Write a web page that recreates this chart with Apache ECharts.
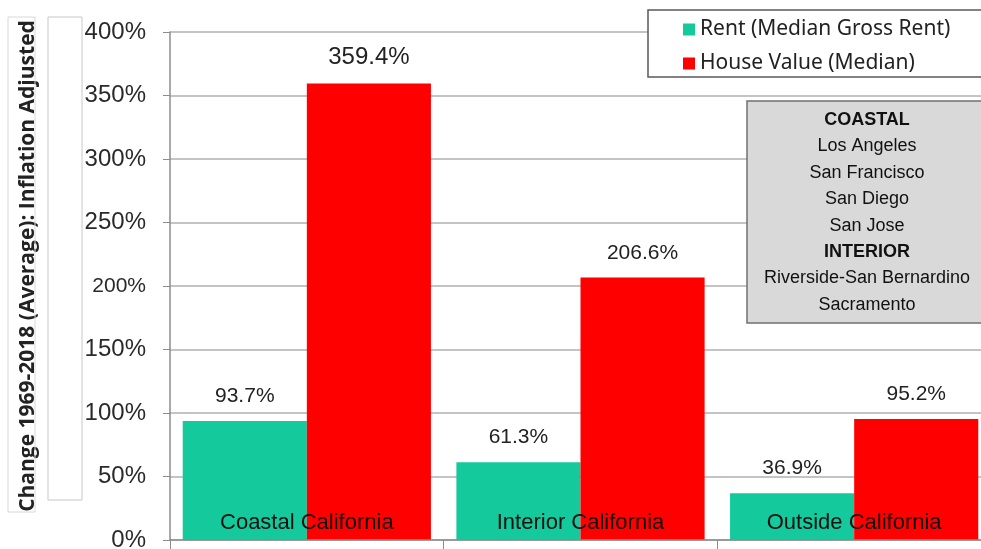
<!DOCTYPE html>
<html>
<head>
<meta charset="utf-8">
<script src="https://cdn.jsdelivr.net/npm/echarts@6/dist/echarts.min.js"></script>
<style>
  html, body { margin: 0; padding: 0; background: #fff; }
  #chart { width: 981px; height: 549px; }
</style>
</head>
<body>
<div id="chart"></div>
<script>
    /*数据*/
    var categories = ['Coastal California', 'Interior California', 'Outside California'];
    var rentValues = [93.7, 61.3, 36.9];
    var houseValues = [359.4, 206.6, 95.2];
    var seriesNames = ['Rent (Median Gross Rent)', 'House Value (Median)'];
    var noteLines = ['COASTAL', 'Los Angeles', 'San Francisco', 'San Diego', 'San Jose',
        'INTERIOR', 'Riverside-San Bernardino', 'Sacramento'];
    var boldLines = ['COASTAL', 'INTERIOR'];

    var chart = echarts.init(document.getElementById('chart'));

    var labelStyle = {
        show: true,
        position: 'top',
        distance: 14,
        fontFamily: 'Liberation Sans',
        fontSize: 21,
        color: '#222',
        formatter: function (p) { return p.value.toFixed(1) + '%'; }
    };

    // 右侧文字框
    var noteTexts = noteLines.map(function (t, i) {
        return {
            type: 'text',
            z: 31,
            style: {
                text: t,
                x: 867,
                y: 120 + i * 26.4,
                align: 'center',
                verticalAlign: 'middle',
                fontFamily: 'Liberation Sans',
                fontSize: 18,
                fontWeight: boldLines.indexOf(t) >= 0 ? 'bold' : 'normal',
                fill: '#111'
            }
        };
    });

    var option = {
        animation: false,
        grid: {
            left: 170,
            top: 32,
            width: 821,
            height: 508,
            outerBoundsMode: 'none'
        },
        legend: {
            orient: 'vertical',
            left: 678,
            top: 14,
            z: 40,
            itemWidth: 12,
            itemHeight: 12,
            itemGap: 13,
            icon: 'rect',
            textStyle: {
                fontFamily: 'Noto Sans',
                fontSize: 21,
                color: '#222'
            },
            data: seriesNames
        },
        xAxis: {
            type: 'category',
            data: categories,
            z: 5,
            axisLine: { lineStyle: { color: '#8c8c8c', width: 1.5 } },
            axisTick: { show: true, length: 10, lineStyle: { color: '#8c8c8c' } },
            axisLabel: {
                inside: true,
                margin: 6,
                fontFamily: 'Liberation Sans',
                fontSize: 22,
                color: '#111'
            }
        },
        yAxis: {
            type: 'value',
            min: 0,
            max: 400,
            interval: 50,
            name: 'Change 1969-2018 (Average): Inflation Adjusted',
            nameLocation: 'middle',
            nameRotate: 90,
            nameGap: 131,
            nameTextStyle: {
                fontFamily: 'Open Sans',
                fontWeight: 'bold',
                fontSize: 21,
                color: '#222',
                padding: [0, 0, 0, 40]
            },
            axisLine: { show: true, lineStyle: { color: '#8c8c8c', width: 1.5 } },
            axisTick: { show: true, length: 7, lineStyle: { color: '#8c8c8c' } },
            splitLine: { lineStyle: { color: '#b0b0b0', width: 1.5 } },
            axisLabel: {
                margin: 24,
                fontFamily: 'Liberation Sans',
                fontSize: 24,
                color: '#2a2a2a',
                formatter: function (v) {
                    return v === 200 ? '{s|' + v + '%}' : v + '%';
                },
                rich: {
                    s: { fontFamily: 'Liberation Sans', fontSize: 21, color: '#2a2a2a' }
                }
            }
        },
        series: [
            {
                name: seriesNames[0],
                type: 'bar',
                barGap: 0,
                barCategoryGap: '9.3%',
                itemStyle: { color: '#14c99b' },
                label: labelStyle,
                data: rentValues
            },
            {
                name: seriesNames[1],
                type: 'bar',
                itemStyle: { color: '#ff0000' },
                label: labelStyle,
                data: houseValues.map(function (v, i) {
                    return i === 0 ? { value: v, label: { fontSize: 24 } } : v;
                })
            }
        ],
        graphic: [
            {
                type: 'rect',
                z: 1,
                shape: { x: 8, y: 17, width: 27, height: 495 },
                style: { fill: 'none', stroke: '#d8d8d8', lineWidth: 1 }
            },
            {
                type: 'rect',
                z: 1,
                shape: { x: 48, y: 17, width: 34, height: 483 },
                style: { fill: 'none', stroke: '#c8c8c8', lineWidth: 1 }
            },
            {
                type: 'rect',
                z: 30,
                shape: { x: 648, y: 10, width: 345, height: 67 },
                style: { fill: '#fff', stroke: '#5a5a5a', lineWidth: 1.5 }
            },
            {
                type: 'rect',
                z: 30,
                shape: { x: 747, y: 101, width: 250, height: 222 },
                style: { fill: '#d9d9d9', stroke: '#707070', lineWidth: 1.5 }
            }
        ].concat(noteTexts)
    };

    chart.setOption(option);
</script>
</body>
</html>
